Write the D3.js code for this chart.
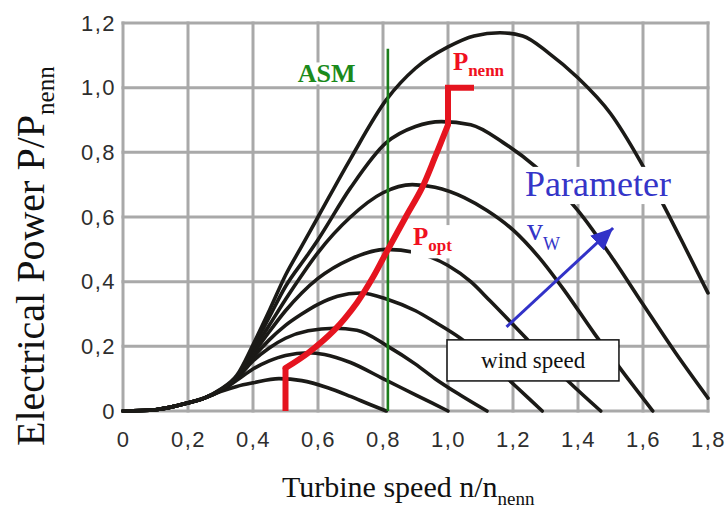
<!DOCTYPE html>
<html><head><meta charset="utf-8">
<script src="https://cdn.jsdelivr.net/npm/d3@7/dist/d3.min.js"></script>
<style>body{margin:0;background:#fff}svg{display:block}</style>
</head><body><svg id="c" width="727" height="509"></svg>
<script>
// ---------- data ----------
const xTicks = [0, 0.2, 0.4, 0.6, 0.8, 1.0, 1.2, 1.4, 1.6, 1.8];
const xTickLabels = ["0", "0,2", "0,4", "0,6", "0,8", "1,0", "1,2", "1,4", "1,6", "1,8"];
const yTicks = [0, 0.2, 0.4, 0.6, 0.8, 1.0, 1.2];
const yTickLabels = ["0", "0,2", "0,4", "0,6", "0,8", "1,0", "1,2"];

// common start of all power curves (n/nnenn, P/Pnenn)
const commonStart = [[0, 0], [0.1, 0.004], [0.2, 0.025], [0.25, 0.04]];
// one curve per wind speed
const curveV1 = [[0.3, 0.06], [0.35, 0.076], [0.4, 0.087], [0.48, 0.10], [0.55, 0.094], [0.63, 0.072], [0.70, 0.045], [0.76, 0.02], [0.81, 0.0]];
const curveV2 = [[0.3, 0.062], [0.35, 0.095], [0.4, 0.13], [0.45, 0.155], [0.5, 0.172], [0.57, 0.18], [0.62, 0.175], [0.7, 0.15], [0.8, 0.1], [0.9, 0.05], [1.0, 0.0]];
const curveV3 = [[0.3, 0.063], [0.35, 0.1], [0.4, 0.155], [0.45, 0.195], [0.5, 0.225], [0.57, 0.248], [0.65, 0.256], [0.72, 0.25], [0.815, 0.2], [0.9, 0.145], [0.96, 0.1], [1.04, 0.048], [1.12, 0.0]];
const curveV4 = [[0.3, 0.064], [0.35, 0.1], [0.4, 0.165], [0.45, 0.22], [0.5, 0.265], [0.55, 0.3], [0.6, 0.33], [0.66, 0.355], [0.73, 0.365], [0.815, 0.345], [0.9, 0.31], [0.96, 0.275], [1.037, 0.226], [1.13, 0.15], [1.21, 0.075], [1.29, 0.0]];
const curveV5 = [[0.3, 0.064], [0.35, 0.102], [0.4, 0.175], [0.45, 0.245], [0.5, 0.31], [0.55, 0.365], [0.6, 0.41], [0.7, 0.47], [0.81, 0.5], [0.9, 0.49], [1.0, 0.45], [1.07, 0.4], [1.13, 0.34], [1.25, 0.215], [1.37, 0.092], [1.47, 0.0]];
const curveV6 = [[0.3, 0.065], [0.35, 0.104], [0.4, 0.185], [0.45, 0.265], [0.5, 0.345], [0.55, 0.42], [0.6, 0.49], [0.7, 0.6], [0.8, 0.675], [0.89, 0.70], [0.96, 0.692], [1.05, 0.66], [1.12, 0.62], [1.2, 0.56], [1.28, 0.475], [1.36, 0.37], [1.45, 0.24], [1.55, 0.105], [1.63, 0.0]];
const curveV7 = [[0.3, 0.066], [0.35, 0.106], [0.4, 0.195], [0.45, 0.29], [0.5, 0.385], [0.566, 0.48], [0.6, 0.53], [0.7, 0.69], [0.81, 0.83], [0.9, 0.88], [0.98, 0.895], [1.07, 0.885], [1.17, 0.83], [1.27, 0.755], [1.4, 0.62], [1.51, 0.467], [1.6, 0.33], [1.7, 0.18], [1.8, 0.04]];
const curveV8 = [[0.3, 0.067], [0.35, 0.11], [0.4, 0.205], [0.45, 0.31], [0.5, 0.42], [0.55, 0.51], [0.6, 0.6], [0.7, 0.78], [0.81, 0.962], [0.9, 1.06], [1.0, 1.126], [1.08, 1.16], [1.16, 1.17], [1.23, 1.16], [1.31, 1.107], [1.397, 1.033], [1.5, 0.92], [1.59, 0.775], [1.66, 0.643], [1.73, 0.505], [1.8, 0.365]];
const windCurves = [curveV1, curveV2, curveV3, curveV4, curveV5, curveV6, curveV7, curveV8];

// optimum power line (P_opt), rated power (P_nenn)
const pOptStart = [[0.5, 0], [0.5, 0.133]];
const pOptCurve = [[0.5, 0.133], [0.57, 0.18], [0.65, 0.25], [0.72, 0.335], [0.77, 0.415], [0.81, 0.49], [0.87, 0.6], [0.92, 0.69], [0.96, 0.785], [1.0, 0.885]];
const pNennLine = [[1.0, 0.885], [1.0, 1.0], [1.08, 1.0]];
// ASM speed limit
const asmLine = [[0.815, 0], [0.815, 1.12]];
// parameter arrow (wind speed increasing)
const paramArrow = [[1.18, 0.26], [1.508, 0.566]];

// ---------- drawing ----------
const svg = d3.select("#c");
const x = d3.scaleLinear().domain([0, 1.8]).range([123, 708]);
const y = d3.scaleLinear().domain([0, 1.2]).range([411, 23]);
const serif = "'Liberation Serif','Times New Roman',serif";
const sans = "'Liberation Sans',Arial,sans-serif";

svg.append("rect").attr("width", 727).attr("height", 509).attr("fill", "#fff");

// grid
const grid = svg.append("g").attr("stroke", "#a9a9a9").attr("stroke-width", 3);
grid.selectAll("line.v").data(xTicks).join("line").attr("class", "v")
  .attr("x1", d => x(d)).attr("x2", d => x(d)).attr("y1", y(1.2) - 1.5).attr("y2", y(0) + 1.5);
grid.selectAll("line.h").data(yTicks).join("line").attr("class", "h")
  .attr("y1", d => y(d)).attr("y2", d => y(d)).attr("x1", x(0) - 1.5).attr("x2", x(1.8) + 1.5);

// axes (labels only)
const xAxis = svg.append("g").attr("transform", `translate(0,${y(0)})`)
  .call(d3.axisBottom(x).tickValues(xTicks).tickFormat((d, i) => xTickLabels[i]).tickSize(0).tickPadding(20));
const yAxis = svg.append("g").attr("transform", `translate(${x(0)},0)`)
  .call(d3.axisLeft(y).tickValues(yTicks).tickFormat((d, i) => yTickLabels[i]).tickSize(0).tickPadding(7));
[xAxis, yAxis].forEach(a => {
  a.select(".domain").remove();
  a.selectAll("text").attr("font-family", sans).attr("font-size", 22).attr("letter-spacing", 1.5).attr("fill", "#2e2e2e");
});

// power curves
const line = d3.line().x(d => x(d[0])).y(d => y(d[1])).curve(d3.curveMonotoneX);
svg.append("g").selectAll("path").data(windCurves).join("path")
  .attr("d", c => line(commonStart.concat(c)))
  .attr("fill", "none").attr("stroke", "#1b1a17").attr("stroke-width", 3.6)
  .attr("stroke-linejoin", "round").attr("stroke-linecap", "round");

// ASM line
const straight = d3.line().x(d => x(d[0])).y(d => y(d[1]));
svg.append("path").attr("d", straight(asmLine)).attr("stroke", "#1b7d1b").attr("stroke-width", 2.6).attr("fill", "none");

// P_opt / P_nenn line
const red = svg.append("g").attr("stroke", "#e5141f").attr("stroke-width", 6).attr("fill", "none");
red.append("path").attr("d", straight(pOptStart));
red.append("path").attr("d", d3.line().x(d => x(d[0])).y(d => y(d[1])).curve(d3.curveCatmullRom.alpha(0.5))(pOptCurve))
  .attr("stroke-linecap", "round");
red.append("path").attr("d", straight(pNennLine)).attr("stroke-linejoin", "miter");

// Parameter box
svg.append("rect").attr("x", x(1.206)).attr("y", y(0.755)).attr("width", x(1.689) - x(1.206)).attr("height", y(0.64) - y(0.755)).attr("fill", "#fff");
svg.append("text").attr("x", x(1.237)).attr("y", y(0.665)).attr("font-family", serif).attr("font-size", 36)
  .attr("fill", "#3535c8").text("Parameter");
const vw = svg.append("text").attr("x", x(1.243)).attr("y", y(0.529)).attr("font-family", serif).attr("font-size", 32).attr("fill", "#3535c8");
vw.append("tspan").text("v");
vw.append("tspan").attr("font-size", 18).attr("dy", 10).text("W");

// arrow
const defs = svg.append("defs");
defs.append("marker").attr("id", "ah").attr("markerUnits", "userSpaceOnUse")
  .attr("markerWidth", 24).attr("markerHeight", 20).attr("refX", 22).attr("refY", 10).attr("orient", "auto")
  .append("path").attr("d", "M0,0 L22,10 L0,20 Z").attr("fill", "#3232c8");
svg.append("path").attr("d", straight(paramArrow)).attr("stroke", "#3232c8").attr("stroke-width", 3)
  .attr("fill", "none").attr("marker-end", "url(#ah)");

// wind speed box
svg.append("rect").attr("x", x(0.997)).attr("y", y(0.22)).attr("width", x(1.526) - x(0.997)).attr("height", y(0.093) - y(0.22))
  .attr("fill", "#fff").attr("stroke", "#111").attr("stroke-width", 1.5);
svg.append("text").attr("x", x(1.262)).attr("y", y(0.133)).attr("text-anchor", "middle").attr("font-family", serif)
  .attr("font-size", 23).attr("fill", "#111").text("wind speed");

// ASM label
svg.append("rect").attr("x", x(0.533)).attr("y", y(1.078)).attr("width", x(0.733) - x(0.533)).attr("height", y(1.01) - y(1.078)).attr("fill", "#fff");
svg.append("text").attr("x", x(0.538)).attr("y", y(1.0176)).attr("font-family", serif).attr("font-weight", "bold")
  .attr("font-size", 26).attr("fill", "#1b8a1b").text("ASM");

// P_nenn label
const pn = svg.append("text").attr("x", x(1.015)).attr("y", y(1.055)).attr("font-family", serif).attr("font-weight", "bold").attr("fill", "#f01020");
pn.append("tspan").attr("font-size", 25).text("P");
pn.append("tspan").attr("font-size", 17).attr("dy", 6).text("nenn");

// P_opt label
svg.append("rect").attr("x", x(0.886)).attr("y", y(0.575)).attr("width", x(1.03) - x(0.886)).attr("height", y(0.472) - y(0.575)).attr("fill", "#fff");
const po = svg.append("text").attr("x", x(0.892)).attr("y", y(0.513)).attr("font-family", serif).attr("font-weight", "bold").attr("fill", "#f01020");
po.append("tspan").attr("font-size", 25).text("P");
po.append("tspan").attr("font-size", 17).attr("dy", 6).text("opt");

// axis titles
const xt = svg.append("text").attr("x", 282).attr("y", 497).attr("font-family", serif).attr("font-size", 30).attr("fill", "#111");
xt.append("tspan").text("Turbine speed n/n");
xt.append("tspan").attr("font-size", 19).attr("dy", 8).text("nenn");

const yt = svg.append("text").attr("transform", "translate(44,446) rotate(-90)").attr("text-anchor", "start")
  .attr("font-family", serif).attr("font-size", 40).attr("fill", "#111");
yt.append("tspan").text("Electrical Power P/P");
yt.append("tspan").attr("font-size", 25).attr("dy", 10).text("nenn");
</script></body></html>
